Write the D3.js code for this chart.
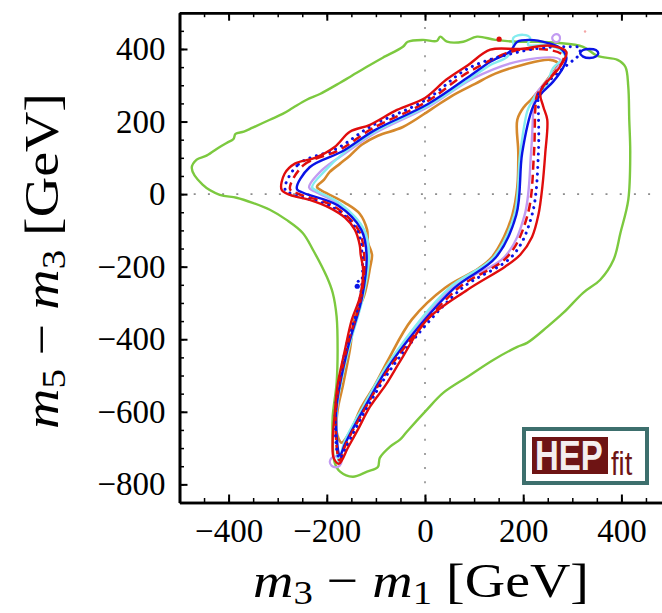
<!DOCTYPE html>
<html>
<head>
<meta charset="utf-8">
<script src="https://cdn.jsdelivr.net/npm/d3@7"></script>
<style>
  html, body { margin: 0; padding: 0; background: #ffffff; }
  svg { display: block; }
</style>
</head>
<body>
<svg id="chart" width="662" height="613"></svg>
<script>
// ---- axis tick values -------------------------------------------------
const xMajorTicks = [-400, -200, 0, 200, 400];
const yMajorTicks = [-800, -600, -400, -200, 0, 200, 400];
const xMinorTicks = d3.range(-500, 501, 50);
const yMinorTicks = d3.range(-850, 501, 50);

// ---- 95% probability contours in the (m3 - m1, m5 - m3) plane, GeV ----
// each ring is listed clockwise starting from the left corner
const fullFitRing = [
  [-475, 72], [-465, 95], [-445, 106], [-418, 130], [-404, 141], [-390, 152], [-386, 166],
  [-369, 172], [-351, 183], [-316, 205], [-290, 221], [-269, 238], [-241, 260], [-214, 276],
  [-173, 307], [-153, 323], [-112, 356], [-86, 376], [-45, 406], [-35, 420], [-4, 425],
  [24, 422], [31, 434], [45, 420], [78, 420], [106, 434], [143, 425], [188, 420], [228, 420],
  [269, 417], [322, 406], [351, 381], [392, 370], [408, 351], [414, 296], [416, 205],
  [418, 114], [414, -16], [398, -107], [384, -181], [357, -236], [322, -272], [282, -327],
  [249, -366], [208, -410], [188, -421], [139, -457], [86, -504], [37, -548], [4, -594],
  [-37, -655], [-51, -677], [-71, -696], [-92, -727], [-96, -752], [-118, -765], [-147, -779],
  [-173, -765], [-184, -740], [-188, -685], [-188, -614], [-180, -520], [-178, -429],
  [-180, -338], [-188, -272], [-200, -228], [-228, -154], [-249, -107], [-282, -71],
  [-316, -43], [-351, -24], [-384, -10], [-418, -2], [-453, 26]
];

const redSolidRing = [
  [-292, 12], [-286, 56], [-265, 84], [-224, 100], [-184, 130], [-153, 172], [-112, 191],
  [-57, 232], [0, 265], [43, 315], [88, 356], [133, 398], [194, 400], [255, 409], [288, 392],
  [275, 351], [235, 282], [241, 241], [249, 205], [245, 114], [239, 20], [231, -57],
  [218, -118], [194, -167], [163, -200], [86, -264], [4, -346], [-49, -457], [-80, -526],
  [-112, -586], [-137, -650], [-157, -699], [-175, -743], [-186, -727], [-188, -677],
  [-184, -608], [-178, -526], [-163, -429], [-149, -346], [-133, -286], [-126, -209],
  [-131, -167], [-133, -140], [-143, -98], [-163, -65], [-194, -38], [-235, -16], [-275, -2]
];

const blueDottedRing = [
  [-285, 13], [-258, 82], [-179, 126], [-110, 187], [2, 260], [90, 348], [195, 393],
  [255, 405], [296, 406], [316, 403], [310, 378], [292, 359], [232, 278], [231, 241],
  [231, 114], [218, -57], [179, -169], [73, -262], [-56, -457], [-117, -586], [-160, -695],
  [-174, -729], [-183, -606], [-162, -429], [-132, -285], [-128, -167], [-139, -98],
  [-189, -36], [-269, -1]
];

const redDashedRing = [
  [-275, 14], [-248, 79], [-174, 122], [-107, 181], [4, 255], [92, 339], [195, 398],
  [282, 380], [229, 275], [225, 241], [222, 114], [209, -57], [169, -171], [66, -261],
  [-61, -457], [-120, -586], [-162, -692], [-174, -734], [-182, -604], [-160, -429],
  [-130, -284], [-124, -167], [-136, -98], [-185, -34], [-259, 1]
];

const blueSolidRing = [
  [-261, 15], [-235, 74], [-168, 118], [-104, 175], [7, 249], [95, 329], [133, 365],
  [173, 393], [188, 420], [214, 425], [249, 417], [275, 403], [288, 376], [281, 348],
  [261, 310], [235, 274], [220, 241], [198, 114], [186, -57], [144, -175], [59, -260],
  [-65, -457], [-122, -586], [-163, -689], [-173, -720], [-181, -602], [-158, -429],
  [-128, -283], [-119, -167], [-130, -98], [-178, -31], [-247, 3]
];

const lavenderRing = [
  [-236, 18], [-210, 66], [-162, 113], [-101, 169], [10, 243], [98, 319], [197, 368],
  [276, 369], [223, 269], [221, 241], [216, 114], [203, -57], [163, -172], [54, -260],
  [-68, -457], [-124, -586], [-164, -688], [-175, -737], [-180, -600], [-157, -429],
  [-127, -282], [-116, -167], [-127, -98], [-174, -29], [-224, 7]
];

const cyanRing = [
  [-230, 19], [-204, 64], [-164, 115], [-102, 172], [9, 246], [97, 323], [133, 356],
  [167, 378], [180, 403], [180, 431], [200, 439], [214, 431], [210, 411], [241, 411],
  [269, 403], [282, 389], [286, 376], [275, 365], [261, 348], [255, 329], [249, 301],
  [235, 282], [224, 268], [214, 246], [208, 227], [194, 114], [182, -57], [139, -175],
  [49, -259], [-70, -457], [-126, -586], [-165, -686], [-175, -740], [-180, -598],
  [-156, -429], [-126, -282], [-114, -167], [-124, -98], [-171, -28], [-219, 8]
];

const orangeRing = [
  [-220, 20], [-206, 39], [-194, 61], [-173, 84], [-153, 106], [-129, 136], [-96, 161],
  [-45, 185], [14, 235], [55, 271], [102, 304], [143, 332], [198, 356], [255, 370],
  [271, 359], [255, 326], [218, 263], [202, 241], [188, 205], [190, 114], [188, 20],
  [178, -57], [161, -118], [135, -176], [108, -206], [41, -258], [-27, -346], [-75, -457],
  [-102, -526], [-129, -586], [-151, -650], [-167, -683], [-171, -685], [-180, -655],
  [-178, -595], [-167, -526], [-153, -429], [-143, -341], [-124, -280], [-112, -203],
  [-108, -167], [-116, -134], [-118, -98], [-133, -54], [-163, -24], [-194, -2], [-210, 9]
];

// small isolated islands
const blueSolidIsland = [
  [316, 388], [322, 397], [335, 400], [348, 397], [353, 388], [348, 379], [335, 375], [322, 379]
];
const lavenderIslandTop = [
  [259, 430], [262, 438], [267, 441], [273, 438], [275, 430], [273, 422], [267, 419], [262, 422]
];
const lavenderIslandBottom = [
  [-194, -738], [-190, -727], [-182, -723], [-174, -727], [-170, -738], [-174, -749], [-182, -753], [-190, -749]
];
const redSpots = [[151, 427]];
const blueSpots = [[-138, -254], [-136, -240]];
const faintSpots = [[326, 448]];

// ---- layout -----------------------------------------------------------
const svg = d3.select("#chart");
const x = d3.scaleLinear().domain([-500, 500]).range([179.5, 670.5]);
const y = d3.scaleLinear().domain([-850, 500]).range([502.5, 12.7]);

const fmt = d => d < 0 ? "\u2212" + Math.abs(d) : String(d);

svg.append("defs").append("clipPath").attr("id", "plotClip")
  .append("rect")
  .attr("x", x(-500)).attr("y", y(500))
  .attr("width", x(500) - x(-500)).attr("height", y(-850) - y(500));

// dotted guide lines through zero
const guides = svg.append("g").attr("clip-path", "url(#plotClip)");
guides.append("line")
  .attr("x1", x(0)).attr("x2", x(0)).attr("y1", y(500)).attr("y2", y(-850))
  .attr("stroke", "#8c8c8c").attr("stroke-width", 1.6)
  .attr("stroke-dasharray", "2,12.2");
guides.append("line")
  .attr("x1", x(-500)).attr("x2", x(500)).attr("y1", y(0)).attr("y2", y(0))
  .attr("stroke", "#8c8c8c").attr("stroke-width", 1.6)
  .attr("stroke-dasharray", "2,12.2");

// ---- contours ---------------------------------------------------------
const ring = d3.line()
  .x(d => x(d[0]))
  .y(d => y(d[1]))
  .curve(d3.curveCatmullRomClosed.alpha(0.5));

const layers = [
  { data: fullFitRing,        color: "#7cc93f", width: 2.4, dash: null },
  { data: orangeRing,         color: "#d5882c", width: 2.6, dash: null },
  { data: lavenderRing,       color: "#c29bf2", width: 2.4, dash: null },
  { data: lavenderIslandTop,  color: "#c29bf2", width: 2.2, dash: null },
  { data: lavenderIslandBottom, color: "#c29bf2", width: 2.2, dash: null },
  { data: cyanRing,           color: "#84ecef", width: 2.4, dash: null },
  { data: blueSolidRing,      color: "#0a14e6", width: 2.4, dash: null },
  { data: blueSolidIsland,    color: "#0a14e6", width: 2.4, dash: null },
  { data: redDashedRing,      color: "#e00d0d", width: 2.5, dash: "9,5" },
  { data: blueDottedRing,     color: "#0a14e6", width: 3.0, dash: "0.1,6.6", cap: "round" },
  { data: redSolidRing,       color: "#e00d0d", width: 2.4, dash: null }
];

const plot = svg.append("g").attr("clip-path", "url(#plotClip)");
layers.forEach(l => {
  plot.append("path")
    .datum(l.data)
    .attr("d", ring)
    .attr("fill", "none")
    .attr("stroke", l.color)
    .attr("stroke-width", l.width)
    .attr("stroke-linejoin", "round")
    .attr("stroke-linecap", l.cap || "butt")
    .attr("stroke-dasharray", l.dash);
});

plot.selectAll("circle.red").data(redSpots).join("circle")
  .attr("cx", d => x(d[0])).attr("cy", d => y(d[1])).attr("r", 2.6).attr("fill", "#e00d0d");
plot.selectAll("circle.blue").data(blueSpots).join("circle")
  .attr("cx", d => x(d[0])).attr("cy", d => y(d[1])).attr("r", (d, i) => i === 0 ? 2.6 : 1.5)
  .attr("fill", "#0a14e6");
plot.selectAll("circle.faint").data(faintSpots).join("circle")
  .attr("cx", d => x(d[0])).attr("cy", d => y(d[1])).attr("r", 1.2).attr("fill", "#f4a5a5");

// ---- axes (ticks pointing inward on all four sides) -------------------
function styleAxis(g, major) {
  g.select(".domain").attr("stroke", "#000").attr("stroke-width", 2.6);
  g.selectAll(".tick line").attr("stroke", "#000").attr("stroke-width", major ? 2 : 1.5);
  g.attr("font-family", "'Liberation Serif', 'DejaVu Serif', serif").attr("font-size", 33);
  g.selectAll(".tick text").attr("fill", "#000");
}

const bottomY = y(-850), topY = y(500), leftX = x(-500), rightX = x(500);

svg.append("g").attr("transform", `translate(0,${bottomY})`)
  .call(d3.axisBottom(x).tickValues(xMinorTicks).tickSize(-4.5).tickSizeOuter(0).tickFormat(""))
  .call(g => styleAxis(g, false));
svg.append("g").attr("transform", `translate(0,${bottomY})`)
  .call(d3.axisBottom(x).tickValues(xMajorTicks).tickSize(-8).tickSizeOuter(0).tickPadding(16).tickFormat(fmt))
  .call(g => styleAxis(g, true));

svg.append("g").attr("transform", `translate(0,${topY})`)
  .call(d3.axisTop(x).tickValues(xMinorTicks).tickSize(-4.5).tickSizeOuter(0).tickFormat(""))
  .call(g => styleAxis(g, false));
svg.append("g").attr("transform", `translate(0,${topY})`)
  .call(d3.axisTop(x).tickValues(xMajorTicks).tickSize(-8).tickSizeOuter(0).tickFormat(""))
  .call(g => styleAxis(g, true));

svg.append("g").attr("transform", `translate(${leftX},0)`)
  .call(d3.axisLeft(y).tickValues(yMinorTicks).tickSize(-4.5).tickSizeOuter(0).tickFormat(""))
  .call(g => styleAxis(g, false));
svg.append("g").attr("transform", `translate(${leftX},0)`)
  .call(d3.axisLeft(y).tickValues(yMajorTicks).tickSize(-8).tickSizeOuter(0).tickPadding(14).tickFormat(fmt))
  .call(g => styleAxis(g, true));

svg.append("g").attr("transform", `translate(${rightX},0)`)
  .call(d3.axisRight(y).tickValues(yMinorTicks).tickSize(-4.5).tickSizeOuter(0).tickFormat(""))
  .call(g => styleAxis(g, false));
svg.append("g").attr("transform", `translate(${rightX},0)`)
  .call(d3.axisRight(y).tickValues(yMajorTicks).tickSize(-8).tickSizeOuter(0).tickFormat(""))
  .call(g => styleAxis(g, true));

// ---- axis titles ------------------------------------------------------
function massLabel(g, a, b) {
  const t = g.append("text")
    .attr("font-family", "'Liberation Serif', 'DejaVu Serif', serif")
    .attr("font-size", 49).attr("fill", "#000").attr("text-anchor", "middle")
    .attr("textLength", 336).attr("lengthAdjust", "spacingAndGlyphs");
  t.append("tspan").attr("font-style", "italic").text("m");
  t.append("tspan").attr("font-size", 34).attr("dy", 7).text(a);
  t.append("tspan").attr("dy", -7).text(" \u2212 ");
  t.append("tspan").attr("font-style", "italic").text("m");
  t.append("tspan").attr("font-size", 34).attr("dy", 7).text(b);
  t.append("tspan").attr("dy", -7).text(" [GeV]");
  return t;
}
massLabel(svg.append("g").attr("transform", "translate(421,597)"), "3", "1");
massLabel(svg.append("g").attr("transform", "translate(58,261) rotate(-90)"), "5", "3");

// ---- HEPfit badge -----------------------------------------------------
const badge = svg.append("g");
badge.append("rect").attr("x", 524).attr("y", 429).attr("width", 123).attr("height", 54)
  .attr("fill", "#ffffff").attr("stroke", "#3d6f6d").attr("stroke-width", 4);
badge.append("rect").attr("x", 532).attr("y", 437).attr("width", 76).attr("height", 37)
  .attr("fill", "#6e1414");
// "HEP" is drawn narrow and tall so it fills the dark block
badge.append("text").attr("transform", "translate(535,470) scale(1,1.3)")
  .attr("font-family", "'Liberation Sans', Arial, sans-serif").attr("font-weight", "bold")
  .attr("font-size", 33).attr("fill", "#f4eeee").text("HEP");
badge.append("text").attr("transform", "translate(611,475) scale(1.05,1.3)")
  .attr("font-family", "'Liberation Sans', Arial, sans-serif")
  .attr("font-size", 26).attr("fill", "#6e1414").text("fit");
</script>
</body>
</html>
